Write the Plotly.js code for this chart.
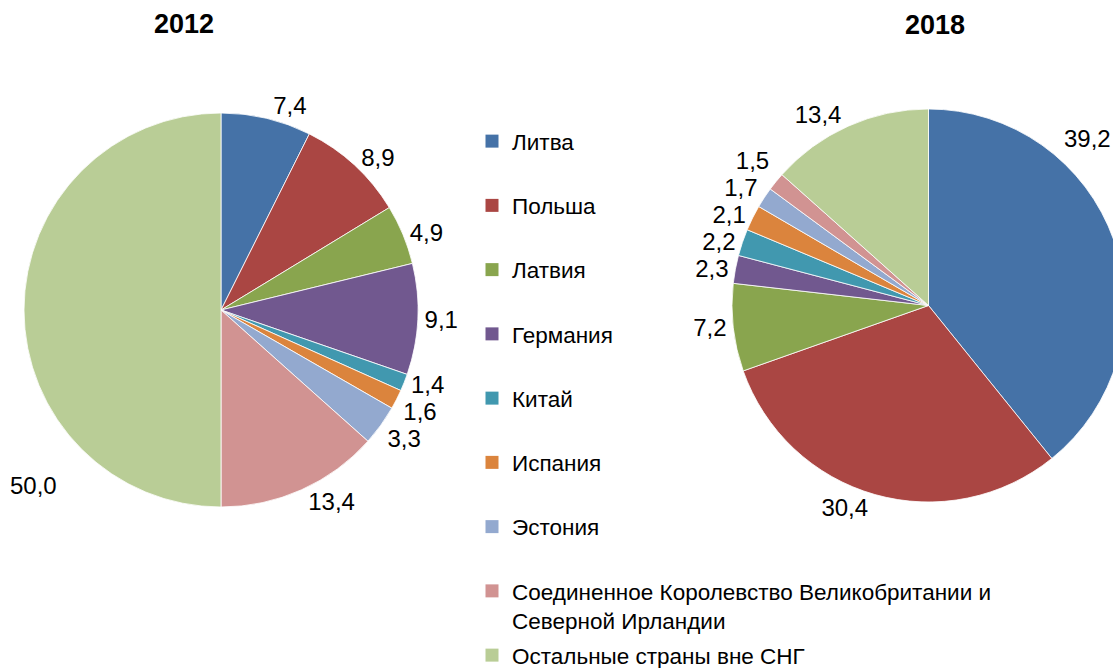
<!DOCTYPE html>
<html>
<head>
<meta charset="utf-8">
<script src="https://cdn.plot.ly/plotly-3.0.1.min.js"></script>
<style>
html, body { margin:0; padding:0; background:#fff; overflow:hidden; }
#chart { width:1200px; height:668px; }
#chart path.textline { display:none; }
</style>
</head>
<body>
<div id="chart"></div>
<script>
const categories = ['Литва', 'Польша', 'Латвия', 'Германия', 'Китай', 'Испания', 'Эстония',
  'Соединенное Королевство Великобритании и<br>Северной Ирландии', 'Остальные страны вне СНГ'];
const values2012 = [7.4, 8.9, 4.9, 9.1, 1.4, 1.6, 3.3, 13.4, 50.0];
const values2018 = [39.2, 30.4, 7.2, 2.3, 2.2, 2.1, 1.7, 1.5, 13.4];
const years = ['2012', '2018'];
const colors = ['#4572A7', '#AA4643', '#89A54E', '#71588F', '#4198AF', '#DB843D', '#93A9CF', '#D19392', '#B9CD96'];

const W = 1200, H = 668;
const FONT = 'Arial, "Liberation Sans", sans-serif';
const fmt = v => v.toFixed(1).replace('.', ',');

// slices whose label is placed as an annotation (Plotly would push it out of the picture)
const manual2012 = 8, manual2018 = 0;

const labelFont = {family: FONT, size: 24, color: '#000'};
const legendFont = {family: FONT, size: 22.5, color: '#000'};

function pie(values, cx, cy, r, manualIdx) {
  return {
    type: 'pie',
    values: values,
    labels: categories,
    text: values.map(fmt),
    textinfo: 'text',
    textposition: values.map((v, i) => i === manualIdx ? 'none' : 'outside'),
    outsidetextfont: labelFont,
    sort: false,
    direction: 'clockwise',
    rotation: 0,
    marker: {colors: colors, line: {color: '#ffffff', width: 0.8}},
    showlegend: false,
    hoverinfo: 'label+text',
    domain: {x: [(cx - r) / W, (cx + r) / W], y: [(H - cy - r) / H, (H - cy + r) / H]}
  };
}

const traces = [pie(values2012, 221, 310, 197, manual2012), pie(values2018, 928.5, 305.5, 196.5, manual2018)];

categories.forEach((c, i) => {
  traces.push({
    type: 'scatter', mode: 'markers', x: [null], y: [null],
    name: c, legendgroup: 'g' + i,
    legend: i === categories.length - 1 ? 'legend2' : 'legend',
    marker: {symbol: 'square', size: 13, color: colors[i]},
    hoverinfo: 'skip', showlegend: true
  });
});

function ann(text, px, py, font) {
  return {text: text, x: px / W, y: 1 - py / H, xref: 'paper', yref: 'paper',
    xanchor: 'center', yanchor: 'middle', showarrow: false, font: font};
}
const titleFont = {family: FONT, size: 27, color: '#000'};

const layout = {
  width: W, height: H,
  margin: {l: 0, r: 0, t: 0, b: 0, autoexpand: false},
  paper_bgcolor: '#fff', plot_bgcolor: '#fff',
  xaxis: {visible: false}, yaxis: {visible: false},
  legend: {x: 472 / W, y: 1 - 120 / H, xanchor: 'left', yanchor: 'top', font: legendFont,
    tracegroupgap: 32, valign: 'top', bgcolor: 'rgba(0,0,0,0)', traceorder: 'grouped'},
  legend2: {x: 472 / W, y: 1 - 634 / H, xanchor: 'left', yanchor: 'top', font: legendFont,
    valign: 'top', bgcolor: 'rgba(0,0,0,0)'},
  annotations: [
    ann('<b>' + years[0] + '</b>', 184, 24, titleFont),
    ann('<b>' + years[1] + '</b>', 935, 25, titleFont),
    ann(fmt(values2012[manual2012]), 33, 485, labelFont),
    ann(fmt(values2018[manual2018]), 1087, 138, labelFont)
  ],
  showlegend: true
};

Plotly.newPlot('chart', traces, layout, {staticPlot: true});
</script>
</body>
</html>
